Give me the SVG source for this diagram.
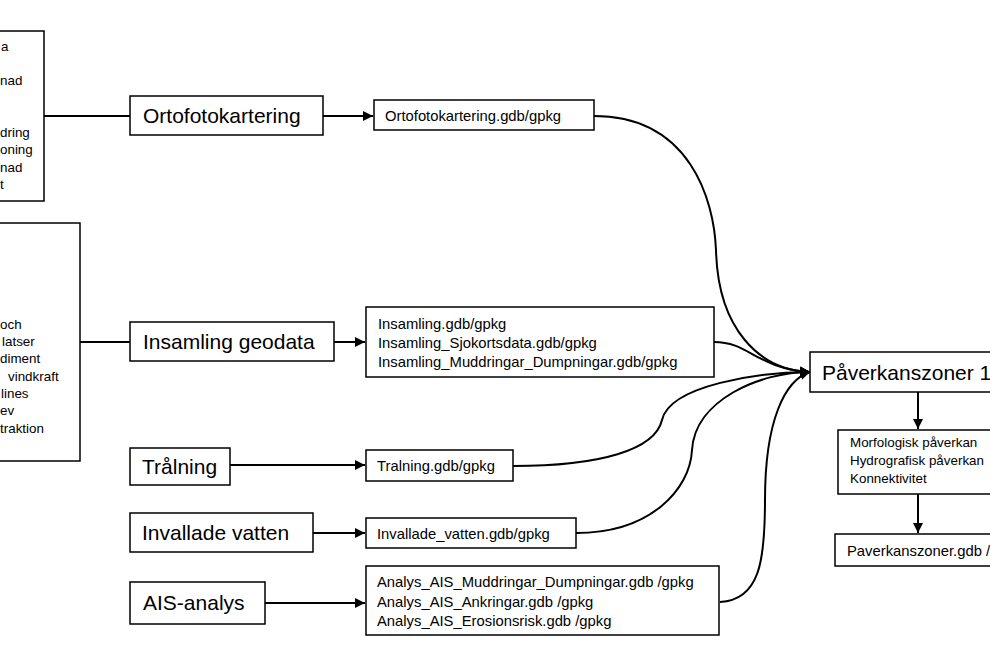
<svg xmlns="http://www.w3.org/2000/svg" width="990" height="660" viewBox="0 0 990 660">
<style>
  .box{fill:#fff;stroke:#000;stroke-width:1.5}
  .big{font-family:"Liberation Sans",Arial,sans-serif;font-size:21px;fill:#000}
  .mid{font-family:"Liberation Sans",Arial,sans-serif;font-size:14.8px;fill:#000}
  .sm{font-family:"Liberation Sans",Arial,sans-serif;font-size:13.4px;fill:#000}
  .ln{fill:none;stroke:#000;stroke-width:2}
</style>
<defs>
  <marker id="ah" viewBox="0 0 10 10" refX="10" refY="5" markerWidth="5" markerHeight="5" orient="auto" markerUnits="strokeWidth">
    <path d="M0,0 L10,5 L0,10 z" fill="#000"/>
  </marker>
</defs>
<rect width="990" height="660" fill="#fff"/>

<g id="connectors">
  <path class="ln" d="M44,116 H130"/>
  <path class="ln" d="M80,342 H130"/>
  <path class="ln" d="M323,116 H373" marker-end="url(#ah)"/>
  <path class="ln" d="M334,342 H365" marker-end="url(#ah)"/>
  <path class="ln" d="M230,465 H365" marker-end="url(#ah)"/>
  <path class="ln" d="M313,533 H365" marker-end="url(#ah)"/>
  <path class="ln" d="M265,603 H365" marker-end="url(#ah)"/>
  <path class="ln" d="M594,116 C690,116 714,200 716,250 C718,330 760,370 810,372" marker-end="url(#ah)"/>
  <path class="ln" d="M714,342 C750,342 755,368 810,372" marker-end="url(#ah)"/>
  <path class="ln" d="M513,466 C600,466 655,450 662,420 C670,385 760,372 810,372" marker-end="url(#ah)"/>
  <path class="ln" d="M576,533 C650,533 690,490 692,450 C695,400 760,372 810,372" marker-end="url(#ah)"/>
  <path class="ln" d="M720,602 C760,600 765,560 765,500 C765,420 785,380 810,372" marker-end="url(#ah)"/>
  <path class="ln" d="M918,392 V429" marker-end="url(#ah)"/>
  <path class="ln" d="M918,494 V533" marker-end="url(#ah)"/>
</g>

<g id="left-box-1">
  <rect class="box" x="-10" y="31" width="54" height="170"/>
  <text class="sm" x="1" y="51">a</text>
  <text class="sm" x="0" y="85">nad</text>
  <text class="sm" x="0" y="137">dring</text>
  <text class="sm" x="0" y="154">oning</text>
  <text class="sm" x="0" y="172">nad</text>
  <text class="sm" x="0" y="189">t</text>
</g>

<g id="left-box-2">
  <rect class="box" x="-10" y="223" width="90" height="238"/>
  <text class="sm" x="0" y="329">och</text>
  <text class="sm" x="2" y="346">latser</text>
  <text class="sm" x="0" y="363">diment</text>
  <text class="sm" x="8" y="381">vindkraft</text>
  <text class="sm" x="1" y="398">lines</text>
  <text class="sm" x="0" y="415">ev</text>
  <text class="sm" x="0" y="433">traktion</text>
</g>

<g id="ortofotokartering">
  <rect class="box" x="130" y="96" width="193" height="39"/>
  <text class="big" x="143" y="123">Ortofotokartering</text>
</g>
<g id="ortofoto-gdb">
  <rect class="box" x="374" y="100" width="220" height="30"/>
  <text class="mid" x="385" y="121">Ortofotokartering.gdb/gpkg</text>
</g>

<g id="insamling">
  <rect class="box" x="130" y="322" width="204" height="39"/>
  <text class="big" x="143" y="349">Insamling geodata</text>
</g>
<g id="insamling-gdb">
  <rect class="box" x="366" y="307" width="348" height="70"/>
  <text class="mid" x="378" y="329">Insamling.gdb/gpkg</text>
  <text class="mid" x="378" y="348">Insamling_Sjokortsdata.gdb/gpkg</text>
  <text class="mid" x="378" y="367">Insamling_Muddringar_Dumpningar.gdb/gpkg</text>
</g>

<g id="tralning">
  <rect class="box" x="130" y="448" width="100" height="37"/>
  <text class="big" x="142" y="474">Trålning</text>
</g>
<g id="tralning-gdb">
  <rect class="box" x="366" y="450" width="147" height="31"/>
  <text class="mid" x="377" y="471">Tralning.gdb/gpkg</text>
</g>

<g id="invallade">
  <rect class="box" x="130" y="513" width="183" height="39"/>
  <text class="big" x="142" y="540">Invallade vatten</text>
</g>
<g id="invallade-gdb">
  <rect class="box" x="366" y="518" width="210" height="30"/>
  <text class="mid" x="377" y="539">Invallade_vatten.gdb/gpkg</text>
</g>

<g id="ais">
  <rect class="box" x="130" y="582" width="135" height="42"/>
  <text class="big" x="143" y="610">AIS-analys</text>
</g>
<g id="ais-gdb">
  <rect class="box" x="366" y="566" width="353" height="69"/>
  <text class="mid" x="377" y="587">Analys_AIS_Muddringar_Dumpningar.gdb /gpkg</text>
  <text class="mid" x="377" y="607">Analys_AIS_Ankringar.gdb /gpkg</text>
  <text class="mid" x="377" y="626">Analys_AIS_Erosionsrisk.gdb /gpkg</text>
</g>

<g id="paverkanszoner">
  <rect class="box" x="810" y="352" width="190" height="40"/>
  <text class="big" x="822" y="380">Påverkanszoner 1-6</text>
</g>
<g id="paverkan-typer">
  <rect class="box" x="838" y="430" width="160" height="64"/>
  <text class="sm" x="850" y="447">Morfologisk påverkan</text>
  <text class="sm" x="850" y="465">Hydrografisk påverkan</text>
  <text class="sm" x="850" y="483">Konnektivitet</text>
</g>
<g id="paverkanszoner-gdb">
  <rect class="box" x="835" y="534" width="165" height="32"/>
  <text class="mid" x="847" y="556">Paverkanszoner.gdb /gpkg</text>
</g>
</svg>
